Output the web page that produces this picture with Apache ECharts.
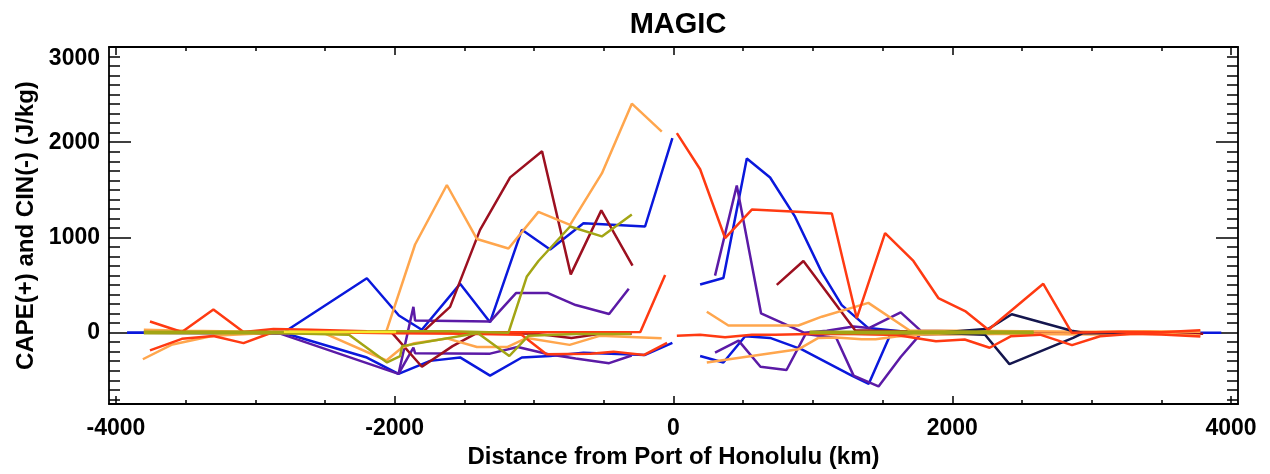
<!DOCTYPE html>
<html>
<head>
<meta charset="utf-8">
<script src="https://cdn.jsdelivr.net/npm/echarts@6/dist/echarts.min.js"></script>
<style>
html,body{margin:0;padding:0;background:#fff;}
#chart{width:1270px;height:474px;}
</style>
</head>
<body>
<div id="chart"></div>
<script>
// ---------- tick values ----------
const xMajorTicks = [-4000, -2000, 0, 2000, 4000];
const xMinorTicks = [-3500, -3000, -2500, -1500, -1000, -500, 500, 1000, 1500, 2500, 3000, 3500];
const yMajorTicks = [0, 1000, 2000, 3000];
const yLabelValues = [0, 1000, 2000];
const yTopLabel = [3000];
const yMinorTicks = [-700, -600, -500, -400, -300, -200, -100, 100, 200, 300, 400, 500, 600, 700, 800, 900,
  1100, 1200, 1300, 1400, 1500, 1600, 1700, 1800, 1900, 2100, 2200, 2300, 2400, 2500, 2600, 2700, 2800, 2900];

// ---------- data: [distance km, J/kg] ----------
// West of Honolulu (negative distance)
const blueCapeW = [[-3920,0],[-3500,0],[-3000,0],[-2800,0],[-2200,571],[-1970,180],[-1806,31],[-1531,513],[-1316,110],[-1088,1080],[-885,874],[-646,1149],[-204,1115],[-8,2043]];
const blueCinW = [[-3920,0],[-2800,0],[-2200,-261],[-1973,-433],[-1746,-296],[-1531,-260],[-1316,-451],[-1088,-261],[-885,-245],[-646,-210],[-204,-234],[-8,-107]];
const purpleCapeW = [[-3800,0],[-2822,-10],[-1973,-433],[-1866,271],[-1854,128],[-1316,117],[-1130,416],[-900,416],[-702,290],[-462,196],[-321,461]];
const purpleCinW = [[-1973,-433],[-1866,-158],[-1854,-215],[-1316,-220],[-1118,-150],[-897,-227],[-702,-272],[-462,-320],[-300,-240]];
const darkredCapeW = [[-1900,0],[-1794,14],[-1603,271],[-1388,1080],[-1172,1631],[-943,1906],[-737,612],[-518,1284],[-294,705]];
const darkredCinW = [[-2021,0],[-1805,-358],[-1585,-141],[-1406,0],[-1000,-10],[-732,-55],[-514,-10],[-300,-10]];
const orangeCapeW = [[-3800,30],[-3500,20],[-3000,10],[-2500,5],[-2062,5],[-1854,926],[-1626,1551],[-1411,984],[-1184,884],[-969,1269],[-742,1132],[-514,1672],[-299,2405],[-84,2112]];
const orangeCinW = [[-3807,-279],[-3595,-124],[-3302,-33],[-2870,0],[-2500,-10],[-2060,-292],[-1949,-158],[-1860,-110],[-1626,-60],[-1410,-150],[-1190,-150],[-1052,-55],[-745,-128],[-530,-33],[-85,-58]];
const oliveCapeW = [[-3800,10],[-3000,10],[-2500,5],[-2000,15],[-1600,15],[-1184,0],[-1052,591],[-969,753],[-742,1115],[-514,1011],[-299,1242]];
const oliveCinW = [[-3800,-5],[-2800,-5],[-2328,-21],[-2055,-313],[-1961,-245],[-1947,-141],[-1405,-3],[-1178,-245],[-1040,-31],[-700,-15],[-306,-13]];
const yellowW = [[-2795,10],[-2400,8],[-1990,6]];
const redCapeW = [[-3756,117],[-3527,7],[-3301,244],[-3085,7],[-2870,38],[-2600,30],[-2200,15],[-1800,5],[-1200,5],[-700,5],[-238,7],[-60,606]];
const redCinW = [[-3756,-186],[-3527,-65],[-3301,-35],[-3085,-110],[-2870,7],[-2500,5],[-2000,-5],[-1500,-10],[-1090,-21],[-911,-227],[-595,-220],[-430,-199],[-211,-234],[-46,-107]];

// East of Honolulu (positive distance)
const redCapeE = [[24,2095],[191,1716],[370,994],[562,1293],[1136,1252],[1315,152],[1518,1046],[1721,753],[1900,364],[2092,227],[2259,31],[2653,513],[2857,0],[3200,10],[3500,5],[3780,25]];
const redCinE = [[24,-31],[191,-21],[370,-48],[562,-21],[729,-21],[976,-13],[1300,-15],[1600,-25],[1883,-90],[2089,-72],[2268,-158],[2419,-38],[2630,-21],[2859,-131],[3060,-38],[3300,-10],[3500,-20],[3780,-40]];
const blueCapeE = [[191,506],[358,575],[526,1830],[693,1630],[872,1218],[1064,633],[1207,289],[1398,48],[1700,5],[2200,5],[3000,0],[3500,0],[3930,0]];
const blueCinE = [[191,-245],[358,-313],[514,-38],[693,-55],[920,-175],[1279,-451],[1401,-537],[1553,-30],[2000,-5],[3000,0],[3778,0]];
const purpleCapeE = [[298,599],[454,1545],[628,203],[936,0],[1100,20],[1292,65],[1402,48],[1630,213],[1773,21],[2500,5]];
const purpleCinE = [[298,-210],[467,-83],[624,-358],[811,-392],[948,-13],[1168,-55],[1292,-451],[1471,-564],[1630,-255],[1773,-13],[2500,-5]];
const darkredCapeE = [[741,502],[932,753],[1303,25],[1800,10],[2500,5],[3000,0],[3754,0]];
const darkredCinE = [[1000,-10],[2000,-15],[3000,-5],[3800,-10]];
const orangeCapeE = [[239,220],[394,75],[896,75],[1064,168],[1398,313],[1697,21],[2100,20],[2500,15],[3000,10],[3400,15],[3780,10]];
const orangeCinE = [[239,-313],[896,-175],[1039,-55],[1168,-50],[1350,-70],[1450,-70],[1600,-40],[1800,-20],[2300,-10],[3000,-20],[3500,-10],[3780,-30]];
const navyCapeE = [[1900,0],[2259,40],[2427,193],[2857,21],[2938,0],[3400,0]];
const navyCinE = [[1900,0],[2235,-21],[2410,-330],[2867,-55],[2938,-5],[3400,0]];
const oliveCapeE = [[976,10],[1500,10],[2000,12],[2584,10]];
const oliveCinE = [[976,-3],[1500,-5],[2000,-5],[2584,-3]];

// ---------- styling ----------
const C = {
  blue: '#0a18dc', purple: '#5b1aa6', darkred: '#9c1020', orange: '#ffa64d',
  red: '#ff3a12', olive: '#a3a514', yellow: '#f5e92c', navy: '#14164e'
};
const lines = [
  [blueCapeW, C.blue], [blueCinW, C.blue], [blueCapeE, C.blue], [blueCinE, C.blue],
  [purpleCapeW, C.purple], [purpleCinW, C.purple], [purpleCapeE, C.purple], [purpleCinE, C.purple],
  [darkredCapeW, C.darkred], [darkredCinW, C.darkred], [darkredCapeE, C.darkred], [darkredCinE, C.darkred],
  [orangeCapeW, C.orange], [orangeCinW, C.orange], [orangeCapeE, C.orange], [orangeCinE, C.orange],
  [navyCapeE, C.navy], [navyCinE, C.navy],
  [redCapeW, C.red], [redCinW, C.red], [redCapeE, C.red], [redCinE, C.red],
  [oliveCapeW, C.olive], [oliveCinW, C.olive], [oliveCapeE, C.olive], [oliveCinE, C.olive],
  [yellowW, C.yellow]
];

const FONT = '"Liberation Sans", Arial, Helvetica, sans-serif';
const XMIN = -4050, XMAX = 4050, YMIN = -750, YMAX = 3000;
const frame = { show: true, onZero: false, lineStyle: { color: '#000', width: 1.8 } };
const tickStyle = { color: '#000', width: 1.5 };
const noLine = { show: false, onZero: false };
const plain = function (v) { return String(v); };
const labelStyle = { color: '#000', fontSize: 23, fontWeight: 'bold', fontFamily: FONT, formatter: plain };

function xAx(pos, values, len, showLine, label, extra) {
  return Object.assign({
    type: 'value', min: XMIN, max: XMAX, position: pos,
    axisLine: showLine ? frame : noLine,
    axisTick: { show: true, inside: true, length: len, customValues: values, lineStyle: tickStyle },
    axisLabel: label || { show: false },
    splitLine: { show: false }
  }, extra || {});
}
function yAx(pos, values, len, showLine, label, extra) {
  return Object.assign({
    type: 'value', min: YMIN, max: YMAX, position: pos,
    axisLine: showLine ? frame : noLine,
    axisTick: { show: true, inside: true, length: len, customValues: values, lineStyle: tickStyle },
    axisLabel: label || { show: false },
    splitLine: { show: false }
  }, extra || {});
}

const option = {
  animation: false,
  backgroundColor: '#fff',
  title: {
    text: 'MAGIC', left: 673, top: 5, textAlign: 'center',
    textStyle: { fontSize: 29, fontWeight: 'bold', color: '#000', fontFamily: FONT }
  },
  grid: { left: 109, right: 32, top: 47, bottom: 63, containLabel: false },
  xAxis: [
    xAx('bottom', xMajorTicks, 8, true,
      Object.assign({ show: true, customValues: xMajorTicks, margin: 13 }, labelStyle),
      { name: 'Distance from Port of Honolulu (km)', nameLocation: 'middle', nameGap: 38,
        nameTextStyle: { color: '#000', fontSize: 24, fontWeight: 'bold', fontFamily: FONT } }),
    xAx('bottom', xMinorTicks, 4, false),
    xAx('top', xMajorTicks, 8, true),
    xAx('top', xMinorTicks, 4, false)
  ],
  yAxis: [
    yAx('left', yMajorTicks, 22, true,
      Object.assign({ show: true, customValues: yLabelValues, margin: 9 }, labelStyle),
      { name: 'CAPE(+) and CIN(-) (J/kg)', nameLocation: 'middle', nameGap: 66, nameRotate: 90,
        nameTextStyle: { color: '#000', fontSize: 24, fontWeight: 'bold', fontFamily: FONT } }),
    yAx('left', yMinorTicks, 11, false,
      Object.assign({ show: true, customValues: yTopLabel, margin: 9, verticalAlign: 'top' }, labelStyle)),
    yAx('right', yMajorTicks, 22, true),
    yAx('right', yMinorTicks, 11, false)
  ],
  series: lines.map(function (l) {
    return {
      type: 'line', xAxisIndex: 0, yAxisIndex: 0, data: l[0],
      showSymbol: false, symbol: 'none', silent: true, z: 2,
      lineStyle: { color: l[1], width: 2.5 }
    };
  })
};

const chart = echarts.init(document.getElementById('chart'), null, { renderer: 'canvas' });
chart.setOption(option);
</script>
</body>
</html>
